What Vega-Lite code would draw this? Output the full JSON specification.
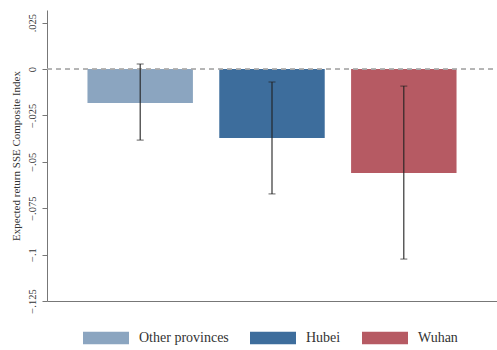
{
  "$schema": "https://vega.github.io/schema/vega-lite/v6.json",
  "width": 450,
  "height": 291,
  "autosize": {"type": "none"},
  "padding": {"left": 47, "top": 10, "right": 0, "bottom": 49},
  "background": "white",
  "config": {
    "view": {"stroke": null},
    "font": "Liberation Serif",
    "axis": {"grid": false}
  },
  "data": {
    "values": [
      {"group": "Other provinces", "mean": -0.0183, "lo": -0.0383, "hi": 0.0027},
      {"group": "Hubei", "mean": -0.0372, "lo": -0.0673, "hi": -0.007},
      {"group": "Wuhan", "mean": -0.056, "lo": -0.1024, "hi": -0.0092}
    ]
  },
  "encoding": {
    "x": {
      "field": "group",
      "type": "nominal",
      "sort": ["Other provinces", "Hubei", "Wuhan"],
      "scale": {"paddingInner": 0.2, "paddingOuter": 0.307},
      "axis": {"labels": false, "ticks": false, "title": null, "domainColor": "#777777", "domainWidth": 1}
    }
  },
  "layer": [
    {
      "mark": {"type": "bar", "opacity": 1},
      "encoding": {
        "y": {
          "field": "mean",
          "type": "quantitative",
          "title": "Expected return SSE Composite Index",
          "scale": {"domain": [-0.125, 0.0318], "nice": false, "zero": false},
          "axis": {
            "values": [0.025, 0, -0.025, -0.05, -0.075, -0.1, -0.125],
            "labelExpr": "datum.value == 0 ? '0' : replace(format(datum.value, '.3~f'), '0.', '.')",
            "labelAngle": -90,
            "labelAlign": "center",
            "labelBaseline": "bottom",
            "labelPadding": 5,
            "labelFontSize": 10.5,
            "labelColor": "#333333",
            "tickSize": 5,
            "tickColor": "#777777",
            "domainColor": "#777777",
            "titleFontSize": 11,
            "titleFontWeight": "normal",
            "titleColor": "#333333",
            "titlePadding": 6
          }
        },
        "y2": {"datum": 0},
        "color": {
          "field": "group",
          "type": "nominal",
          "sort": ["Other provinces", "Hubei", "Wuhan"],
          "scale": {"domain": ["Other provinces", "Hubei", "Wuhan"], "range": ["#8ba5c0", "#3d6d9c", "#b65a63"]},
          "legend": {
            "title": null,
            "orient": "none",
            "legendX": 36,
            "legendY": 305,
            "direction": "horizontal",
            "symbolType": "M-1,-0.27L1,-0.27L1,0.27L-1,0.27Z",
            "symbolSize": 2116,
            "symbolStrokeWidth": 0,
            "symbolOpacity": 1,
            "labelFontSize": 14,
            "labelColor": "#333333",
            "labelOffset": 10,
            "columnPadding": 21,
            "labelFont": "Liberation Serif"
          }
        }
      }
    },
    {
      "mark": {"type": "rule", "color": "#aaaaaa", "strokeDash": [5, 4], "strokeWidth": 1},
      "encoding": {"y": {"datum": 0}, "x": {"value": 0}, "x2": {"value": 450}}
    },
    {
      "mark": {"type": "errorbar", "color": "#222222", "ticks": {"size": 7, "color": "#222222"}, "rule": {"strokeWidth": 1.1}},
      "encoding": {
        "y": {"field": "lo", "type": "quantitative", "title": "Expected return SSE Composite Index"},
        "y2": {"field": "hi"}
      }
    }
  ]
}
